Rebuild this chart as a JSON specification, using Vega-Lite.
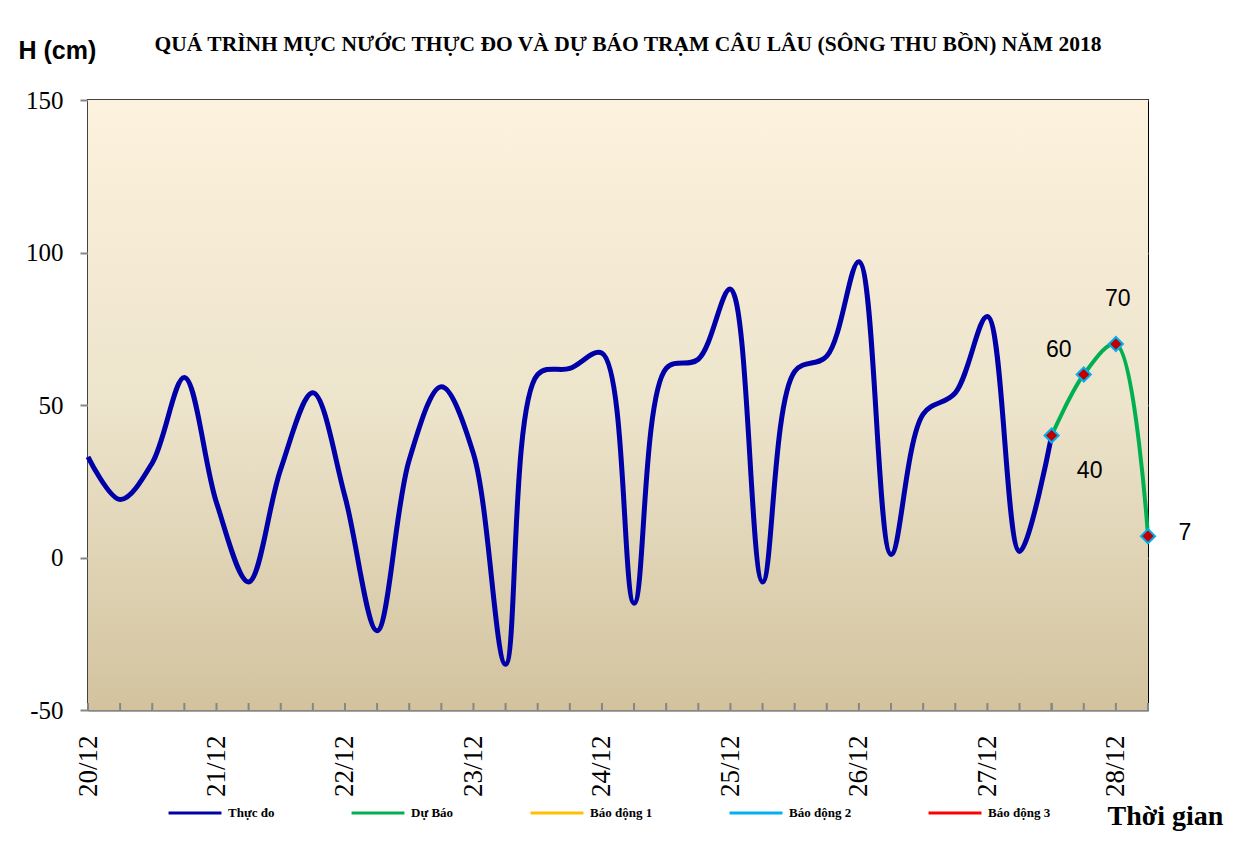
{
  "$schema": "https://vega.github.io/schema/vega-lite/v6.json",
  "width": 1060,
  "height": 610,
  "autosize": "none",
  "padding": {"left": 88, "top": 100, "right": 103, "bottom": 141},
  "background": "#ffffff",
  "title": {
    "text": "QUÁ TRÌNH MỰC NƯỚC THỰC ĐO VÀ DỰ BÁO TRẠM CÂU LÂU (SÔNG THU BỒN) NĂM  2018",
    "font": "Liberation Serif",
    "fontSize": 21.5,
    "fontWeight": "bold",
    "color": "#000000",
    "anchor": "middle",
    "dx": 10,
    "offset": -17
  },
  "config": {
    "view": {"stroke": "#000000", "strokeWidth": 2},
    "locale": {
      "number": {"decimal": ".", "thousands": ",", "grouping": [3], "currency": ["$", ""], "minus": "-"}
    }
  },
  "datasets": {
    "levels": [
      {"time": "2018-12-20T00:00:00", "h": 33, "series": "Thực đo"},
      {"time": "2018-12-20T06:00:00", "h": 19, "series": "Thực đo"},
      {"time": "2018-12-20T12:00:00", "h": 31, "series": "Thực đo"},
      {"time": "2018-12-20T18:00:00", "h": 59, "series": "Thực đo"},
      {"time": "2018-12-21T00:00:00", "h": 18, "series": "Thực đo"},
      {"time": "2018-12-21T06:00:00", "h": -8, "series": "Thực đo"},
      {"time": "2018-12-21T12:00:00", "h": 29, "series": "Thực đo"},
      {"time": "2018-12-21T18:00:00", "h": 54, "series": "Thực đo"},
      {"time": "2018-12-22T00:00:00", "h": 20, "series": "Thực đo"},
      {"time": "2018-12-22T06:00:00", "h": -24, "series": "Thực đo"},
      {"time": "2018-12-22T12:00:00", "h": 32, "series": "Thực đo"},
      {"time": "2018-12-22T18:00:00", "h": 56, "series": "Thực đo"},
      {"time": "2018-12-23T00:00:00", "h": 34, "series": "Thực đo"},
      {"time": "2018-12-23T06:00:00", "h": -35, "series": "Thực đo"},
      {"time": "2018-12-23T12:00:00", "h": 60, "series": "Thực đo"},
      {"time": "2018-12-23T18:00:00", "h": 62, "series": "Thực đo"},
      {"time": "2018-12-24T00:00:00", "h": 67, "series": "Thực đo"},
      {"time": "2018-12-24T06:00:00", "h": -15, "series": "Thực đo"},
      {"time": "2018-12-24T12:00:00", "h": 62, "series": "Thực đo"},
      {"time": "2018-12-24T18:00:00", "h": 65, "series": "Thực đo"},
      {"time": "2018-12-25T00:00:00", "h": 88, "series": "Thực đo"},
      {"time": "2018-12-25T06:00:00", "h": -8, "series": "Thực đo"},
      {"time": "2018-12-25T12:00:00", "h": 61, "series": "Thực đo"},
      {"time": "2018-12-25T18:00:00", "h": 66, "series": "Thực đo"},
      {"time": "2018-12-26T00:00:00", "h": 97, "series": "Thực đo"},
      {"time": "2018-12-26T06:00:00", "h": 1, "series": "Thực đo"},
      {"time": "2018-12-26T12:00:00", "h": 47, "series": "Thực đo"},
      {"time": "2018-12-26T18:00:00", "h": 54, "series": "Thực đo"},
      {"time": "2018-12-27T00:00:00", "h": 79, "series": "Thực đo"},
      {"time": "2018-12-27T06:00:00", "h": 2, "series": "Thực đo"},
      {"time": "2018-12-27T12:00:00", "h": 40, "series": "Thực đo"},
      {"time": "2018-12-27T12:00:00", "h": 40, "series": "Dự Báo"},
      {"time": "2018-12-27T18:00:00", "h": 60, "series": "Dự Báo"},
      {"time": "2018-12-28T00:00:00", "h": 70, "series": "Dự Báo"},
      {"time": "2018-12-28T06:00:00", "h": 7, "series": "Dự Báo"}
    ]
  },
  "encoding": {
    "x": {
      "field": "time",
      "type": "temporal",
      "scale": {
        "domain": [
          {"year": 2018, "month": 12, "date": 20, "hours": 0},
          {"year": 2018, "month": 12, "date": 28, "hours": 6}
        ],
        "nice": false
      },
      "axis": {
        "title": "Thời gian",
        "titleFont": "Liberation Serif",
        "titleFontSize": 28,
        "titleFontWeight": "bold",
        "titleColor": "#000000",
        "titleX": 1077,
        "titleY": 106,
        "titleAlign": "center",
        "titleBaseline": "middle",
        "values": [
          {"year": 2018, "month": 12, "date": 20},
          {"year": 2018, "month": 12, "date": 21},
          {"year": 2018, "month": 12, "date": 22},
          {"year": 2018, "month": 12, "date": 23},
          {"year": 2018, "month": 12, "date": 24},
          {"year": 2018, "month": 12, "date": 25},
          {"year": 2018, "month": 12, "date": 26},
          {"year": 2018, "month": 12, "date": 27},
          {"year": 2018, "month": 12, "date": 28}
        ],
        "format": "%d/%m",
        "labelAngle": -90,
        "labelFont": "Liberation Serif",
        "labelFontSize": 27,
        "labelColor": "#000000",
        "labelOverlap": false,
        "labelFlush": false,
        "labelPadding": 25,
        "ticks": false,
        "domainColor": "#868686",
        "domainWidth": 2,
        "grid": false
      }
    },
    "y": {
      "field": "h",
      "type": "quantitative",
      "scale": {"domain": [-50, 150], "nice": false},
      "axis": {
        "title": "H (cm)",
        "titleAngle": 0,
        "titleFont": "Liberation Sans",
        "titleFontSize": 25,
        "titleFontWeight": "bold",
        "titleColor": "#000000",
        "titleX": -70,
        "titleY": -50,
        "titleAlign": "left",
        "titleBaseline": "middle",
        "values": [-50, 0, 50, 100, 150],
        "labelFont": "Liberation Serif",
        "labelFontSize": 25,
        "labelColor": "#000000",
        "labelPadding": 17,
        "tickSize": 8,
        "tickColor": "#868686",
        "tickWidth": 2,
        "domainColor": "#868686",
        "domainWidth": 2,
        "grid": true,
        "gridColor": "#868686",
        "gridWidth": 2
      }
    }
  },
  "layer": [
    {
      "data": {"values": [{"start": "2018-12-20T00:00:00", "end": "2018-12-28T06:00:00", "hi": 150, "lo": -50}]},
      "mark": {
        "type": "rect",
        "fill": {
          "gradient": "linear",
          "x1": 0, "y1": 0, "x2": 0, "y2": 1,
          "stops": [
            {"offset": 0, "color": "#FDF2DD"},
            {"offset": 0.5, "color": "#EDE4CC"},
            {"offset": 1, "color": "#D2C39E"}
          ]
        }
      },
      "encoding": {
        "x": {"field": "start", "type": "temporal"},
        "x2": {"field": "end"},
        "y": {"field": "hi", "type": "quantitative"},
        "y2": {"field": "lo"}
      }
    },
    {
      "data": {"name": "levels"},
      "mark": {"type": "rule", "color": "#868686", "strokeWidth": 2},
      "encoding": {
        "y": {"datum": -50, "type": "quantitative"},
        "y2": {"datum": -47.7}
      }
    },
    {
      "data": {"name": "levels"},
      "transform": [{"filter": "datum.series == 'Thực đo'"}],
      "mark": {"type": "line", "interpolate": "catmull-rom", "strokeWidth": 5},
      "encoding": {
        "color": {
          "field": "series",
          "type": "nominal",
          "scale": {
            "domain": ["Thực đo", "Dự Báo", "Báo động 1", "Báo động 2", "Báo động 3"],
            "range": ["#0000A8", "#00B050", "#FFC000", "#00B0F0", "#FF0000"]
          },
          "legend": {
            "title": null,
            "orient": "none",
            "legendX": 79,
            "legendY": 685,
            "direction": "horizontal",
            "columns": 5,
            "columnPadding": 70,
            "symbolType": "stroke",
            "symbolSize": 2800,
            "symbolStrokeWidth": 3,
            "labelFont": "Liberation Serif",
            "labelFontSize": 13,
            "labelFontWeight": "bold",
            "labelColor": "#000000",
            "labelOffset": 5
          }
        }
      }
    },
    {
      "data": {"name": "levels"},
      "transform": [{"filter": "datum.series == 'Dự Báo'"}],
      "mark": {"type": "line", "interpolate": "catmull-rom", "strokeWidth": 4},
      "encoding": {"color": {"field": "series", "type": "nominal"}}
    },
    {
      "data": {"name": "levels"},
      "transform": [{"filter": "datum.series == 'Dự Báo'"}],
      "mark": {"type": "point", "shape": "diamond", "filled": true, "fill": "#C00000", "stroke": "#00B0F0", "strokeWidth": 2, "size": 200, "opacity": 1}
    },
    {
      "data": {"name": "levels"},
      "transform": [{"filter": "datum.series == 'Dự Báo' && datum.h == 40"}],
      "mark": {"type": "text", "font": "Liberation Sans", "fontSize": 23, "color": "#000000", "dx": 38, "dy": 35},
      "encoding": {"text": {"field": "h", "type": "quantitative"}}
    },
    {
      "data": {"name": "levels"},
      "transform": [{"filter": "datum.series == 'Dự Báo' && datum.h == 60"}],
      "mark": {"type": "text", "font": "Liberation Sans", "fontSize": 23, "color": "#000000", "dx": -25, "dy": -25},
      "encoding": {"text": {"field": "h", "type": "quantitative"}}
    },
    {
      "data": {"name": "levels"},
      "transform": [{"filter": "datum.series == 'Dự Báo' && datum.h == 70"}],
      "mark": {"type": "text", "font": "Liberation Sans", "fontSize": 23, "color": "#000000", "dx": 2, "dy": -45},
      "encoding": {"text": {"field": "h", "type": "quantitative"}}
    },
    {
      "data": {"name": "levels"},
      "transform": [{"filter": "datum.series == 'Dự Báo' && datum.h == 7"}],
      "mark": {"type": "text", "font": "Liberation Sans", "fontSize": 23, "color": "#000000", "dx": 37, "dy": -3},
      "encoding": {"text": {"field": "h", "type": "quantitative"}}
    }
  ]
}
